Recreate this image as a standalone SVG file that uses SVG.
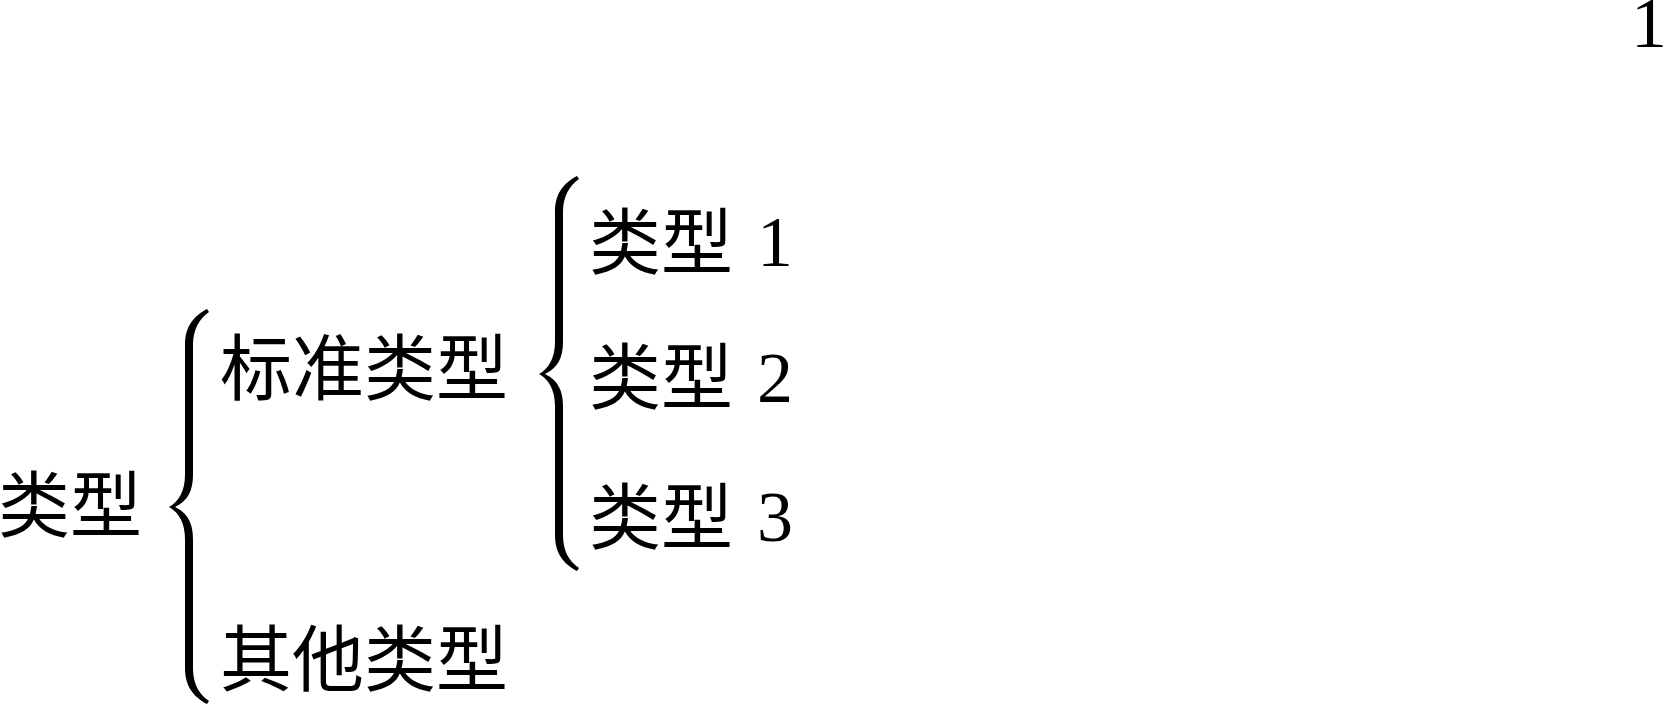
<svg xmlns="http://www.w3.org/2000/svg" width="1665" height="704" viewBox="0 0 1665 704">
<style>
.cjk{font-family:"Noto Sans CJK SC","Noto Sans CJK JP",sans-serif;font-size:72px;fill:#000}
.num{font-family:"Liberation Serif","DejaVu Serif",serif;font-size:72px;fill:#000}
.brace{fill:#000;stroke:none}
</style>
<defs>
<path id="brace" class="brace" d="M207,309 C194,316 185,326 185,345 L185,475 C185,492 178,502 169,507 C178,512 185,522 185,539 L185,668 C185,687 194,697 207,704 L209,701 C199,694 193,684 193,668 L193,539 C193,524 188,513 175,507 C188,501 193,490 193,475 L193,345 C193,330 199,319 209,312 Z"/>
</defs>
<rect width="1665" height="704" fill="#fff"/>
<text class="num" x="1631" y="47">1</text>
<g id="connectors">
<use href="#brace"/>
<use href="#brace" transform="translate(370,-133)"/>
</g>
<g id="root"><text class="cjk" x="-2" y="531">类型</text></g>
<g id="standard"><text class="cjk" x="220" y="394">标准类型</text></g>
<g id="other"><text class="cjk" x="220" y="685">其他类型</text></g>
<g id="type1"><text class="cjk" x="589" y="268">类型</text><text class="num" x="757" y="266">1</text></g>
<g id="type2"><text class="cjk" x="589" y="403">类型</text><text class="num" x="757" y="402">2</text></g>
<g id="type3"><text class="cjk" x="589" y="543">类型</text><text class="num" x="757" y="541">3</text></g>
</svg>
